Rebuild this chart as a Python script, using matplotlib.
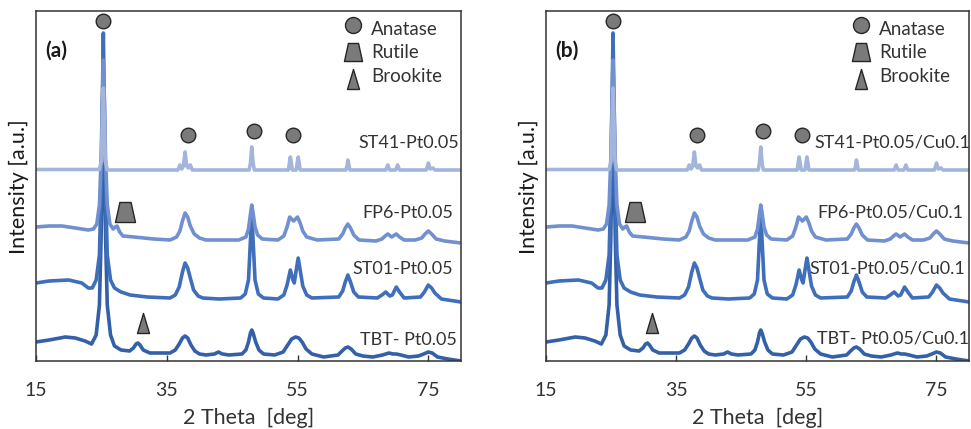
import matplotlib
matplotlib.use("Agg")
import matplotlib.pyplot as plt
from matplotlib.path import Path

plt.rcParams['font.family'] = ['Lato', 'DejaVu Sans']

# ---------------- data (2theta [deg], intensity [a.u.]) ----------------
st41_x = [15, 24.7, 25.0, 25.15, 25.3, 25.45, 25.6, 25.9, 36.7, 37.0, 37.3, 37.55, 37.8, 38.05, 38.3,
          38.6, 38.9, 47.6, 47.8, 48.0, 48.2, 48.4, 53.6, 53.75, 53.9, 54.05, 54.2, 54.8, 54.95,
          55.1, 55.25, 55.4, 62.4, 62.6, 62.7, 62.85, 63.0, 68.5, 68.8, 69.1, 70.0, 70.3, 70.6,
          74.7, 75.0, 75.3, 75.7, 76.0, 80]
st41_y = [191.5, 191.5, 200, 240, 273, 240, 200, 191, 191, 196, 192, 195, 209, 195, 193,
          196, 191, 191, 198, 214, 198, 191, 191, 198, 204, 198, 191, 191, 198,
          204, 198, 191, 191, 196, 201, 196, 191, 191, 196, 191, 191, 196, 191,
          191, 198, 192, 193, 191, 191]

fp6_x = [15, 17, 19, 21, 23, 23.8, 24.3, 24.7, 24.95, 25.15, 25.3, 25.45, 25.65, 25.9, 26.3, 26.8,
         27.1, 27.4, 27.8, 28.3, 30, 33, 35.5, 36.5, 37.0, 37.4, 37.8, 38.2, 38.6, 39.2, 40, 41,
         43, 46, 47.1, 47.5, 47.8, 48.0, 48.2, 48.5, 48.9, 49.6, 52, 52.9, 53.4, 53.8, 54.4, 55.0,
         55.4, 55.8, 56.4, 58, 61.3, 61.9, 62.3, 62.7, 63.1, 63.6, 64.4, 67, 67.9, 68.4, 68.8,
         69.4, 70.1, 70.6, 71.3, 73, 74.0, 74.5, 75.0, 75.5, 76.2, 77.5, 80]
fp6_y = [134, 135, 135, 133, 131, 132, 137, 156, 201, 261, 301, 261, 201, 156, 137, 132,
         134, 135, 129, 125, 124, 122, 121, 124, 130, 140, 148, 144, 135, 127, 123, 121,
         121, 121, 124, 132, 147, 156, 148, 134, 126, 122, 121, 125, 134, 144, 140, 144,
         138, 130, 124, 121, 122, 127, 133, 137, 133, 126, 121, 120, 122, 125, 127,
         124, 127, 124, 121, 121, 123, 127, 130, 127, 122, 120, 118]

st01_x = [15, 17, 20, 22, 23, 23.6, 24.2, 24.7, 24.95, 25.15, 25.3, 25.45, 25.65, 25.9, 26.4, 27.0,
          28, 29.4, 32, 35.5, 36.3, 36.9, 37.4, 37.8, 38.2, 38.6, 39.1, 39.8, 40.5, 43, 46.3,
          47.0, 47.5, 47.8, 48.0, 48.2, 48.5, 49.0, 49.8, 52, 52.9, 53.4, 53.9, 54.3, 54.5, 54.8,
          55.1, 55.4, 55.8, 56.4, 57.2, 61.3, 61.9, 62.3, 62.7, 63.1, 63.6, 64.3, 67.2, 67.9,
          68.5, 69.1, 69.5, 70.1, 70.6, 71.3, 73.8, 74.4, 75.0, 75.5, 76.0, 77, 80]
st01_y = [78, 80, 81, 78, 73, 73, 81, 106, 171, 261, 328, 261, 171, 106, 81, 73,
          69, 66, 64, 63, 66, 74, 89, 98, 93, 83, 71, 65, 63, 62, 63,
          67, 81, 121, 149, 121, 81, 67, 63, 62, 66, 76, 91, 81, 78, 91,
          103, 91, 75, 66, 63, 64, 70, 79, 86, 79, 69, 64, 63, 66,
          69, 65, 66, 74, 69, 63, 64, 69, 76, 73, 68, 62, 59]

tbt_x = [15, 17, 19.5, 21, 22.5, 23.5, 24.2, 24.7, 24.95, 25.15, 25.3, 25.45, 25.65, 25.9, 26.4, 27.0,
         28, 29.3, 29.9, 30.3, 30.6, 30.9, 31.4, 32.4, 35.5, 36.3, 36.9, 37.4, 37.8, 38.2, 38.7,
         39.3, 40, 41, 42.3, 42.9, 43.5, 44.5, 46.5, 47.1, 47.5, 47.8, 48.0, 48.2, 48.6, 49.1,
         49.8, 51.5, 52.8, 53.5, 54.1, 54.7, 55.2, 55.7, 56.3, 57.2, 59, 61.2, 61.8, 62.3, 62.7,
         63.2, 63.9, 65, 66.5, 68, 69, 69.6, 70.1, 70.8, 72, 73.5, 74.3, 75.0, 75.6, 76.4, 78, 80]
tbt_y = [19, 21, 24, 23, 20, 17, 26, 56, 121, 201, 251, 201, 121, 56, 26, 15,
         11, 10, 13, 17, 18, 16, 11, 8, 8, 11, 17, 23, 25, 23, 16,
         10, 7, 6, 7, 9, 7, 6, 7, 11, 19, 28, 31, 28, 19, 11,
         7, 6, 9, 16, 22, 24, 23, 19, 12, 7, 4, 6, 10, 13, 14,
         12, 7, 5, 4, 6, 8, 7, 7, 6, 4, 5, 7, 9, 8, 4, 2, 0]

series_names_a = ["TBT- Pt0.05", "ST01-Pt0.05", "FP6-Pt0.05", "ST41-Pt0.05"]
series_names_b = ["TBT- Pt0.05/Cu0.1", "ST01-Pt0.05/Cu0.1", "FP6-Pt0.05/Cu0.1", "ST41-Pt0.05/Cu0.1"]
series_x = [tbt_x, st01_x, fp6_x, st41_x]
series_y = [tbt_y, st01_y, fp6_y, st41_y]
colors = ['#3360a8', '#3f6fba', '#7090cf', '#a3b5db']

# phase markers (2theta, height)
anatase_x = [25.3, 38.2, 48.3, 54.3]
anatase_y = [340, 226, 230, 226]
rutile_x = [28.6]
rutile_y = [149]
brookite_x = [31.3]
brookite_y = [38]

xticks = [15, 35, 55, 75]
phase_names = ['Anatase', 'Rutile', 'Brookite']

# label placement (axes coords: right edge, baseline)
label_pos_a = [(0.991, 0.046), (0.981, 0.249), (0.981, 0.409), (0.995, 0.609)]
label_pos_b = [(0.999, 0.051), (0.990, 0.251), (0.986, 0.411), (1.002, 0.609)]

trap = Path([(-0.5, -0.5), (0.5, -0.5), (0.28, 0.5), (-0.28, 0.5), (-0.5, -0.5)],
            [Path.MOVETO, Path.LINETO, Path.LINETO, Path.LINETO, Path.CLOSEPOLY])
tri = Path([(-0.3, -0.5), (0.3, -0.5), (0.0, 0.5), (-0.3, -0.5)],
           [Path.MOVETO, Path.LINETO, Path.LINETO, Path.CLOSEPOLY])

mfc = '#7a7a7a'
mec = '#262626'
tcol = '#333333'

fig = plt.figure(figsize=(9.71, 4.29), dpi=100)
ax_a = fig.add_axes([36/971, 1-361/429, 425/971, 350/429])
ax_b = fig.add_axes([546/971, 1-361/429, 423/971, 350/429])

for ax, names, lpos, tag in [(ax_a, series_names_a, label_pos_a, '(a)'),
                             (ax_b, series_names_b, label_pos_b, '(b)')]:
    for xs, ys, c in zip(series_x, series_y, colors):
        ax.plot(xs, ys, color=c, lw=2.6, solid_joinstyle='round', solid_capstyle='round')
    for name, (lx, ly) in zip(names, lpos):
        ax.text(lx, ly, name, transform=ax.transAxes, ha='right', va='baseline',
                fontsize=13, color=tcol)
    ax.plot(anatase_x, anatase_y, ls='none', marker='o', ms=10.5, mfc=mfc, mec=mec, mew=1)
    ax.plot(rutile_x, rutile_y, ls='none', marker=trap, ms=14.4, mfc=mfc, mec=mec, mew=1)
    ax.plot(brookite_x, brookite_y, ls='none', marker=tri, ms=14.4, mfc=mfc, mec=mec, mew=1)

    # legend
    lgx = 0.745
    ax.plot([lgx], [0.96], transform=ax.transAxes, marker='o', ms=11.5, mfc=mfc, mec=mec, mew=1, clip_on=False)
    ax.plot([lgx], [0.883], transform=ax.transAxes, marker=trap, ms=13, mfc=mfc, mec=mec, mew=1, clip_on=False)
    ax.plot([lgx], [0.806], transform=ax.transAxes, marker=tri, ms=14.4, mfc=mfc, mec=mec, mew=1, clip_on=False)
    for txt, yb in zip(phase_names, [0.931, 0.866, 0.797]):
        ax.text(lgx + 0.043, yb, txt, transform=ax.transAxes, ha='left', va='baseline',
                fontsize=13.5, color=tcol)

    ax.text(0.022, 0.886, tag, transform=ax.transAxes, ha='left', va='center',
            fontsize=15, fontweight='bold', color='#1a1a1a')

    ax.set_xlim(15, 80)
    ax.set_ylim(0, 350)
    ax.set_yticks([])
    ax.set_xticks(xticks)
    ax.tick_params(axis='x', direction='in', length=4, width=1, pad=15,
                   labelsize=14, colors='#333333', labelcolor=tcol)
    for s in ax.spines.values():
        s.set_color('#333333')
        s.set_linewidth(1.1)
    ax.text(0.5, -0.163, '2 Theta  [deg]', transform=ax.transAxes, ha='center', va='center',
            fontsize=15.5, color=tcol)
    ax.text(-0.04, 0.497, 'Intensity [a.u.]', transform=ax.transAxes, ha='center', va='center',
            rotation=90, fontsize=15.5, color='#1a1a1a')

fig.savefig('out.png', dpi=100)
